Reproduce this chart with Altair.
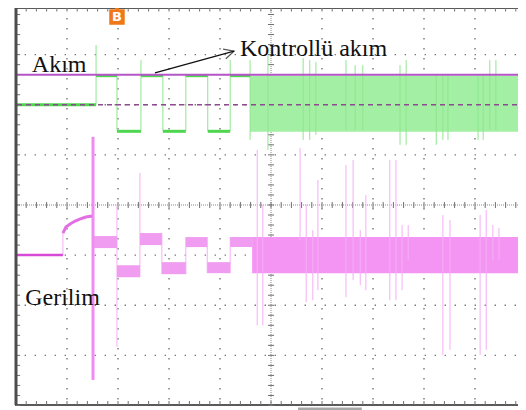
import altair as alt
import pandas as pd

# Oscilloscope screen: x in divisions (0..10), y in divisions (-4..4)
X_DOMAIN = [0, 10]
Y_DOMAIN = [-3.99, 3.93]

# ---- Current trace (green, upper) ----
cur_seg_x1 = [0.00, 1.57, 1.98, 2.45, 2.88, 3.33, 3.76, 4.20]
cur_seg_x2 = [1.57, 1.98, 2.45, 2.88, 3.33, 3.76, 4.20, 4.59]
cur_seg_y = [2.00, 2.58, 1.47, 2.58, 1.47, 2.58, 1.47, 2.58]
cur_band_x = [4.59, 10.0]
cur_band_y = [1.46, 2.58]
cur_spike_x = [1.57, 1.98, 2.45, 2.88, 3.33, 3.76, 4.20, 4.59, 4.94, 5.63, 5.76, 5.88,
               6.47, 6.65, 6.80, 7.53, 7.65, 8.24, 8.37, 8.47, 9.06, 9.16, 9.29, 9.41]
cur_spike_top = [3.19, 2.60, 2.89, 2.60, 2.60, 2.60, 2.89, 2.89, 2.99, 2.93, 2.89, 2.85,
                 2.89, 2.79, 2.79, 2.79, 2.89, 2.60, 2.60, 2.60, 2.60, 2.60, 2.89, 2.89]
cur_spike_bot = [2.00, 1.48, 1.48, 1.48, 1.48, 1.48, 1.48, 1.30, 1.10, 1.30, 1.30, 1.40,
                 1.50, 1.50, 1.50, 1.20, 1.20, 1.20, 1.30, 1.30, 1.30, 1.30, 1.50, 1.50]
ref_solid_y = 2.60
ref_dash_y = 2.00

# ---- Voltage trace (pink, lower) ----
v_init_x = [0.00, 0.92]
v_init_y = -1.00
v_exp_x = [0.92, 0.98, 1.06, 1.16, 1.25, 1.37, 1.49]
v_exp_y = [-0.56, -0.44, -0.38, -0.32, -0.28, -0.24, -0.22]
v_band_x1 = [1.53, 1.98, 2.43, 2.86, 3.33, 3.75, 4.20]
v_band_x2 = [1.98, 2.43, 2.86, 3.33, 3.75, 4.20, 4.63]
v_band_lo = [-0.86, -1.44, -0.80, -1.38, -0.84, -1.36, -0.84]
v_band_hi = [-0.62, -1.20, -0.56, -1.14, -0.64, -1.14, -0.64]
v_steady_x = [4.63, 10.0]
v_steady_y = [-1.36, -0.64]
v_big_spike = [1.51, 1.36, -3.49]
v_spike_x = [0.92, 1.98, 2.43, 2.86, 3.33, 3.75, 4.20, 4.73, 4.84, 5.57, 5.69, 5.82, 5.92,
             6.47, 6.61, 6.75, 6.86, 7.33, 7.45, 7.57, 7.69, 8.37, 8.51, 9.10, 9.22, 9.35,
             9.47, 9.90]
v_spike_top = [-0.56, 0.00, 0.64, -0.56, -0.64, -0.64, -0.64, 1.10, 0.00, 1.14, 0.00, -0.50,
               0.50, 0.80, 0.90, -0.50, 0.20, 0.90, 0.90, -0.40, -0.40, -0.20, -0.30, -0.20,
               -0.10, -0.40, -0.46, 0.50]
v_spike_bot = [-1.00, -2.83, -1.44, -1.38, -1.38, -1.36, -1.36, -2.40, -2.40, -0.70, -1.94, -1.90,
               -1.70, -1.84, -1.50, -1.60, -1.70, -1.90, -1.90, -1.70, -1.10, -2.99, -2.89,
               -2.99, -2.89, -1.10, -1.10, -1.80]

# ---- Annotations ----
labels = ["Akım", "Kontrollü akım", "Gerilim"]
label_x = [0.31, 4.39, 0.18]
label_y = [2.65, 2.97, -2.00]
arrow_from = [2.725, 2.635]
arrow_to = [4.275, 3.07]
trigger_x = 1.98
trigger_y = 3.75
scroll_bar = [5.53, 6.78, -4.04, -4.10]

# grid decoration
major_x = [1, 2, 3, 4, 6, 7, 8, 9]
major_y = [-3, -2, -1, 1, 2, 3]
minor_x = [round(i * 0.2, 2) for i in range(51)]
minor_y = [round(-4 + i * 0.2, 2) for i in range(41)]

xs = alt.Scale(domain=X_DOMAIN, nice=False, zero=False)
ys = alt.Scale(domain=Y_DOMAIN, nice=False, zero=False)


def X(f="x"):
    return alt.X(f"{f}:Q", scale=xs, axis=None)


def Y(f="y"):
    return alt.Y(f"{f}:Q", scale=ys, axis=None)


hidden_axis = dict(labels=False, ticks=False, domain=False, grid=False, title=None)
base = alt.Chart(pd.DataFrame({"x": [0, 10], "y": [-3.99, 3.93]})).mark_point(opacity=0).encode(
    x=alt.X("x:Q", scale=xs, axis=alt.Axis(**hidden_axis)),
    y=alt.Y("y:Q", scale=ys, axis=alt.Axis(**hidden_axis)),
)

grid_style = dict(color="#777777", strokeWidth=1.4, strokeDash=[1.4, 8.6])
grid_v = alt.Chart(pd.DataFrame({"x": major_x})).mark_rule(**grid_style).encode(x=X())
grid_h = alt.Chart(pd.DataFrame({"y": major_y})).mark_rule(**grid_style).encode(y=Y())

center_v = alt.Chart(pd.DataFrame({"x": [5]})).mark_rule(
    color="#8a8a8a", strokeDash=[1, 1], strokeWidth=1).encode(x=X())
center_h = alt.Chart(pd.DataFrame({"y": [0]})).mark_rule(
    color="#8a8a8a", strokeDash=[1, 1], strokeWidth=1).encode(y=Y())

mx = pd.DataFrame({"x": minor_x})
my = pd.DataFrame({"y": minor_y})
tick_style = dict(color="#707070", strokeWidth=1)
ticks_ch = alt.Chart(mx).mark_rule(**tick_style).encode(
    x=X(), y=alt.datum(-0.06, scale=ys), y2=alt.datum(0.06))
ticks_cv = alt.Chart(my).mark_rule(**tick_style).encode(
    y=Y(), x=alt.datum(4.94, scale=xs), x2=alt.datum(5.06))
ticks_top = alt.Chart(mx).mark_rule(**tick_style).encode(
    x=X(), y=alt.datum(3.93, scale=ys), y2=alt.datum(3.86))
ticks_bot = alt.Chart(mx).mark_rule(**tick_style).encode(
    x=X(), y=alt.datum(-3.99, scale=ys), y2=alt.datum(-3.91))
ticks_left = alt.Chart(my).mark_rule(**tick_style).encode(
    y=Y(), x=alt.datum(0, scale=xs), x2=alt.datum(0.08))
ticks_right = alt.Chart(my).mark_rule(**tick_style).encode(
    y=Y(), x=alt.datum(9.92, scale=xs), x2=alt.datum(10))

# green current
cur_band_df = pd.DataFrame({"x": [cur_band_x[0]], "x2": [cur_band_x[1]],
                            "y": [cur_band_y[0]], "y2": [cur_band_y[1]]})
cur_band = alt.Chart(cur_band_df).mark_rect(color="#a3efa3").encode(
    x=X(), x2="x2:Q", y=Y(), y2="y2:Q")
cur_sp_df = pd.DataFrame({"x": cur_spike_x, "y": cur_spike_top, "y2": cur_spike_bot})
cur_spikes = alt.Chart(cur_sp_df).mark_rule(color="#8fe68f", strokeWidth=1).encode(
    x=X(), y=Y(), y2="y2:Q")
cur_seg_df = pd.DataFrame({"x": cur_seg_x1, "x2": cur_seg_x2, "y": cur_seg_y})
cur_segs = alt.Chart(cur_seg_df).mark_rule(color="#4fd64f", strokeWidth=3).encode(
    x=X(), x2="x2:Q", y=Y())
ref_solid = alt.Chart(pd.DataFrame({"y": [ref_solid_y]})).mark_rule(
    color="#b455c8", strokeWidth=2).encode(y=Y())
ref_dash = alt.Chart(pd.DataFrame({"y": [ref_dash_y]})).mark_rule(
    color="#8e4a8e", strokeWidth=1.5, strokeDash=[5, 4]).encode(y=Y())

# pink voltage
v_steady_df = pd.DataFrame({"x": [v_steady_x[0]], "x2": [v_steady_x[1]],
                            "y": [v_steady_y[0]], "y2": [v_steady_y[1]]})
v_steady = alt.Chart(v_steady_df).mark_rect(color="#f495f4").encode(
    x=X(), x2="x2:Q", y=Y(), y2="y2:Q")
v_band_df = pd.DataFrame({"x": v_band_x1, "x2": v_band_x2, "y": v_band_lo, "y2": v_band_hi})
v_bands = alt.Chart(v_band_df).mark_rect(color="#f09cf0").encode(
    x=X(), x2="x2:Q", y=Y(), y2="y2:Q")
v_sp_df = pd.DataFrame({"x": v_spike_x, "y": v_spike_top, "y2": v_spike_bot})
v_spikes = alt.Chart(v_sp_df).mark_rule(color="#f5aef5", strokeWidth=1).encode(
    x=X(), y=Y(), y2="y2:Q")
v_big_df = pd.DataFrame({"x": [v_big_spike[0]], "y": [v_big_spike[1]], "y2": [v_big_spike[2]]})
v_big = alt.Chart(v_big_df).mark_rule(color="#f08cf0", strokeWidth=3).encode(
    x=X(), y=Y(), y2="y2:Q")
v_init_df = pd.DataFrame({"x": [v_init_x[0]], "x2": [v_init_x[1]], "y": [v_init_y]})
v_init = alt.Chart(v_init_df).mark_rule(color="#d64ad6", strokeWidth=2.5).encode(
    x=X(), x2="x2:Q", y=Y())
v_exp_df = pd.DataFrame({"x": v_exp_x, "y": v_exp_y})
v_exp = alt.Chart(v_exp_df).mark_line(color="#e46ee4", strokeWidth=3).encode(x=X(), y=Y())

# annotations
lab_df = pd.DataFrame({"x": label_x, "y": label_y, "t": labels})
texts = alt.Chart(lab_df).mark_text(
    font="Liberation Serif", fontSize=24, color="#111111", align="left",
    baseline="alphabetic").encode(x=X(), y=Y(), text="t:N")
arrow_df = pd.DataFrame({"x": [arrow_from[0]], "y": [arrow_from[1]],
                         "x2": [arrow_to[0]], "y2": [arrow_to[1]]})
arrow_line = alt.Chart(arrow_df).mark_rule(color="#111111", strokeWidth=1.3).encode(
    x=X(), y=Y(), x2="x2:Q", y2="y2:Q")
head_df = pd.DataFrame({"x": [arrow_to[0]], "y": [arrow_to[1]]})
arrow_head = alt.Chart(head_df).mark_point(
    shape="M-1,-0.5L0,0L-1,0.5", size=400, filled=False, color="#111111",
    strokeWidth=1.3, angle=344).encode(x=X(), y=Y())

trig_df = pd.DataFrame({"x": [trigger_x], "y": [trigger_y]})
trig_tri = alt.Chart(pd.DataFrame({"x": [trigger_x], "y": [3.91]})).mark_point(
    shape="triangle-down", size=50, filled=True, color="#f07818", opacity=1).encode(x=X(), y=Y())
trig_box = alt.Chart(trig_df).mark_square(size=240, color="#f07818", opacity=1).encode(
    x=X(), y=Y())
trig_txt = alt.Chart(trig_df).mark_text(
    text="B", font="DejaVu Sans", fontSize=13, fontWeight="bold", color="white",
    align="center", baseline="middle").encode(x=X(), y=Y())

bar_df = pd.DataFrame({"x": [scroll_bar[0]], "x2": [scroll_bar[1]],
                       "y": [scroll_bar[2]], "y2": [scroll_bar[3]]})
sbar = alt.Chart(bar_df).mark_rect(color="#a9a9a9").encode(
    x=X(), x2="x2:Q", y=Y(), y2="y2:Q")
left_border = alt.Chart(pd.DataFrame({"x": [0]})).mark_rule(
    color="#4d4d4d", strokeWidth=3).encode(x=X())

chart = alt.layer(
    base, grid_v, grid_h, center_v, center_h, ticks_ch, ticks_cv, ticks_top, ticks_bot,
    ticks_left, ticks_right,
    cur_band, cur_spikes, cur_segs,
    v_steady, v_spikes, v_bands, v_big, v_init, v_exp,
    ref_solid, ref_dash,
    texts, arrow_line, arrow_head, trig_tri, trig_box, trig_txt, sbar, left_border,
).properties(
    width=510, height=397,
    autosize=alt.AutoSizeParams(type="none"),
    padding={"left": 8, "top": 0, "right": -8, "bottom": 5},
    background="white",
).configure_view(stroke="#5a5a5a", strokeWidth=2)

chart.save("out.html", embed_options={"renderer": "svg", "actions": False})
